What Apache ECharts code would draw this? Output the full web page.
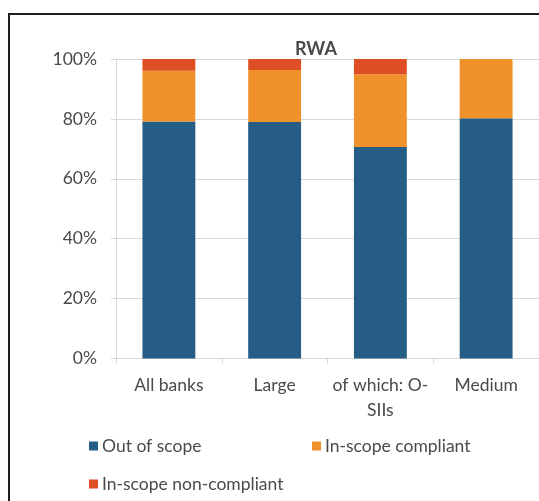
<!DOCTYPE html>
<html>
<head>
<meta charset="utf-8">
<script src="https://cdn.jsdelivr.net/npm/echarts@6/dist/echarts.min.js"></script>
<style>
html,body{margin:0;padding:0;background:#fff;}
#wrap{position:relative;width:539px;height:501px;overflow:hidden;}
#frame{position:absolute;left:8px;top:13px;width:700px;height:700px;border-left:2px solid #1e1e1e;border-top:2px solid #1e1e1e;box-sizing:border-box;pointer-events:none;z-index:2;}
#chart{position:absolute;left:0;top:0;width:539px;height:501px;}
</style>
</head>
<body>
<div id="wrap">
<div id="chart"></div>
<div id="frame"></div>
</div>
<script>
var categories = ['All banks', 'Large', 'of which: O-\nSIIs', 'Medium'];
var outOfScope = [79.1, 79.0, 70.6, 80.2];
var inScopeCompliant = [17.0, 17.3, 24.3, 19.8];
var inScopeNonCompliant = [3.9, 3.7, 5.1, 0];
var yTicks = [0, 20, 40, 60, 80, 100];
var seriesNames = ['Out of scope', 'In-scope compliant', 'In-scope non-compliant'];

var colors = ['#265d86', '#f0922b', '#de4f26'];
var txt = '#4a4a4a';
var font = 'Lato';
var fs = 17.5;

var chart = echarts.init(document.getElementById('chart'));
function legendAt(name, left, top) {
  return {
    data: [name], left: left, top: top, orient: 'horizontal',
    itemWidth: 9, itemHeight: 9, itemGap: 0, icon: 'rect',
    textStyle: {color: txt, fontSize: fs, fontFamily: font, padding: [0, 0, 0, -1]},
    selectedMode: false, padding: 0
  };
}
chart.setOption({
  animation: false,
  color: colors,
  title: {
    text: 'RWA', left: 311, top: 35, textAlign: 'center',
    textStyle: {color: txt, fontSize: 18, fontWeight: 'bold', fontFamily: font}
  },
  legend: [
    legendAt(seriesNames[0], 89, 437),
    legendAt(seriesNames[1], 312, 437),
    legendAt(seriesNames[2], 89, 475)
  ],
  grid: {left: 116, top: 59, width: 425, height: 299.5, containLabel: false},
  xAxis: {
    type: 'category', data: categories,
    axisLine: {lineStyle: {color: '#d9d9d9', width: 1}},
    axisTick: {show: true, length: 5, lineStyle: {color: '#d9d9d9'}},
    axisLabel: {interval: 0, color: txt, fontSize: fs, fontFamily: font, margin: 14, lineHeight: 25}
  },
  yAxis: {
    type: 'value', min: 0, max: 100, interval: 20,
    axisLine: {show: true, lineStyle: {color: '#d9d9d9'}},
    axisTick: {show: true, length: 5, lineStyle: {color: '#d9d9d9'}},
    splitLine: {lineStyle: {color: '#d9d9d9'}},
    axisLabel: {
      color: txt, fontSize: fs, fontFamily: font, margin: 19,
      formatter: function (v) { return yTicks.indexOf(v) >= 0 ? v + '%' : ''; }
    }
  },
  series: [
    {name: seriesNames[0], type: 'bar', stack: 's', barWidth: '50%', data: outOfScope},
    {name: seriesNames[1], type: 'bar', stack: 's', barWidth: '50%', data: inScopeCompliant},
    {name: seriesNames[2], type: 'bar', stack: 's', barWidth: '50%', data: inScopeNonCompliant}
  ]
});
</script>
</body>
</html>
